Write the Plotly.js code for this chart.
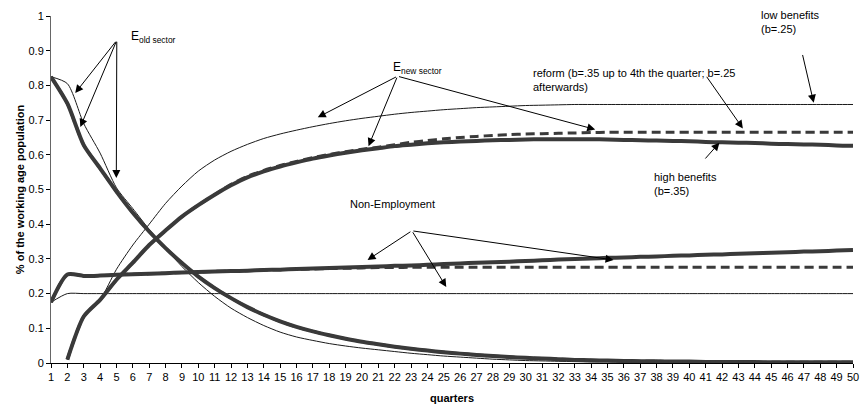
<!DOCTYPE html>
<html>
<head>
<meta charset="utf-8">
<script src="https://cdn.plot.ly/plotly-3.0.1.min.js"></script>
<style>html,body{margin:0;padding:0;background:#fff;}#chart{width:863px;height:407px;}</style>
</head>
<body>
<div id="chart"></div>
<script>
const quarters = Array.from({length: 50}, (_, i) => i + 1);

// E old sector
const oldLow = [0.825,0.805,0.69,0.605,0.505,0.445,0.385,0.33,0.278,0.232,0.192,0.158,0.131,0.108,0.089,0.075,0.065,0.056,0.049,0.043,0.038,0.033,0.028,0.024,0.020,0.017,0.014,0.011,0.009,0.007,0.006,0.005,0.004,0.003,0.003,0.002,0.002,0.002,0.002,0.001,0.001,0.001,0.001,0.001,0.001,0.001,0.001,0.001,0.001,0.001];
const oldHigh = [0.825,0.748,0.628,0.561,0.494,0.433,0.379,0.331,0.288,0.249,0.216,0.187,0.161,0.139,0.12,0.104,0.091,0.08,0.07,0.061,0.054,0.047,0.041,0.036,0.031,0.027,0.023,0.02,0.017,0.015,0.013,0.011,0.009,0.008,0.007,0.006,0.005,0.005,0.004,0.004,0.003,0.003,0.003,0.003,0.002,0.002,0.002,0.002,0.002,0.002];
const oldReform = [0.825,0.748,0.628,0.561,0.494,0.433,0.379,0.331,0.288,0.249,0.216,0.187,0.161,0.139,0.12,0.104,0.091,0.08,0.07,0.061,0.054,0.047,0.041,0.036,0.031,0.027,0.023,0.02,0.017,0.015,0.013,0.011,0.009,0.008,0.007,0.006,0.005,0.005,0.004,0.004,0.003,0.003,0.003,0.003,0.002,0.002,0.002,0.002,0.002,0.002];

// E new sector
const newLow = [null,0.01,0.134,0.182,0.27,0.34,0.40,0.46,0.51,0.553,0.585,0.61,0.63,0.647,0.66,0.671,0.681,0.69,0.698,0.705,0.711,0.717,0.722,0.726,0.73,0.733,0.736,0.738,0.74,0.742,0.743,0.744,0.745,0.745,0.745,0.745,0.745,0.745,0.745,0.745,0.745,0.745,0.745,0.745,0.745,0.745,0.745,0.745,0.745,0.745];
const newHigh = [null,0.01,0.134,0.182,0.24,0.289,0.34,0.382,0.422,0.455,0.485,0.512,0.535,0.552,0.566,0.578,0.589,0.598,0.606,0.613,0.619,0.625,0.629,0.633,0.636,0.638,0.640,0.642,0.643,0.644,0.645,0.645,0.645,0.645,0.644,0.643,0.642,0.641,0.640,0.639,0.637,0.636,0.635,0.634,0.632,0.631,0.630,0.629,0.627,0.626];
const newReform = [null,0.01,0.134,0.182,0.24,0.289,0.34,0.382,0.422,0.455,0.485,0.515,0.538,0.555,0.569,0.581,0.592,0.601,0.609,0.616,0.622,0.629,0.636,0.641,0.646,0.650,0.653,0.656,0.658,0.660,0.661,0.662,0.663,0.664,0.665,0.665,0.665,0.665,0.665,0.665,0.665,0.665,0.665,0.665,0.665,0.665,0.665,0.665,0.665,0.665];

// Non-employment
const nonLow = [0.175,0.2,0.2,0.2,0.2,0.2,0.2,0.2,0.2,0.2,0.2,0.2,0.2,0.2,0.2,0.2,0.2,0.2,0.2,0.2,0.2,0.2,0.2,0.2,0.2,0.2,0.2,0.2,0.2,0.2,0.2,0.2,0.2,0.2,0.2,0.2,0.2,0.2,0.2,0.2,0.2,0.2,0.2,0.2,0.2,0.2,0.2,0.2,0.2,0.2];
const nonHigh = [0.175,0.255,0.251,0.252,0.254,0.256,0.257,0.259,0.261,0.262,0.264,0.265,0.266,0.268,0.269,0.271,0.272,0.274,0.275,0.277,0.278,0.28,0.281,0.283,0.285,0.287,0.289,0.29,0.292,0.294,0.296,0.298,0.300,0.301,0.303,0.304,0.306,0.307,0.309,0.310,0.312,0.313,0.315,0.316,0.318,0.319,0.321,0.322,0.324,0.326];
const nonReform = [0.175,0.255,0.251,0.252,0.254,0.256,0.257,0.259,0.261,0.262,0.264,0.265,0.266,0.268,0.269,0.270,0.271,0.272,0.273,0.274,0.275,0.275,0.276,0.276,0.276,0.276,0.276,0.276,0.276,0.276,0.276,0.276,0.276,0.276,0.276,0.276,0.276,0.276,0.276,0.276,0.276,0.276,0.276,0.276,0.276,0.276,0.276,0.276,0.276,0.276];

const thin = {color: '#1a1a1a', width: 1, shape: 'spline', smoothing: 0.7};
const thick = {color: '#3a3a3a', width: 4, shape: 'spline', smoothing: 0.7};
const dashed = {color: '#3a3a3a', width: 3, dash: '9px,5px', shape: 'spline', smoothing: 0.7};

function tr(y, line) { return {x: quarters, y: y, type: 'scatter', mode: 'lines', line: line, hoverinfo: 'skip', connectgaps: false}; }

const data = [
  tr(oldLow, thin), tr(newLow, thin), tr(nonLow, thin),
  tr(oldHigh, thick), tr(newHigh, thick), tr(nonHigh, thick),
  tr(oldReform, dashed), tr(newReform, dashed), tr(nonReform, dashed)
];

const af = {family: 'Liberation Sans, Arial, sans-serif', size: 11, color: '#000'};
function arrow(tx, ty, hx, hy) {
  return {x: hx, y: hy, ax: tx, ay: ty, axref: 'x', ayref: 'y', xref: 'x', yref: 'y',
    text: '', showarrow: true, arrowhead: 2, arrowsize: 1.6, arrowwidth: 1, arrowcolor: '#000', standoff: 0, startstandoff: 0};
}
function label(x, y, text, xa, ya, size, yref) {
  return {x: x, y: y, xref: 'x', yref: yref || 'y', text: text, showarrow: false, xanchor: xa, yanchor: ya, align: 'left',
    font: Object.assign({}, af, {size: size || 11})};
}

const annotations = [
  arrow(5.02, 0.93, 2.48, 0.778), arrow(5.02, 0.93, 2.79, 0.68), arrow(5.02, 0.93, 4.99, 0.533),
  label(5.75, 0.94, 'E<sub>old sector</sub>', 'left', 'middle', 12),
  arrow(22.17, 0.8265, 17.3, 0.708), arrow(22.17, 0.8265, 20.4, 0.625), arrow(22.17, 0.8265, 34.25, 0.673),
  label(21.8, 0.85, 'E<sub>new sector</sub>', 'left', 'middle', 12),
  label(30.3, 0.86, 'reform (b=.35 up to 4th the quarter; b=.25<br>afterwards)', 'left', 'top', 11),
  arrow(41.0, 0.829, 43.27, 0.676),
  label(44.27, 1.025, 'low benefits<br>(b=.25)', 'left', 'top', 11, 'paper'),
  arrow(46.9, 0.892, 47.6, 0.75),
  label(37.7, 0.56, 'high benefits<br>(b=.35)', 'left', 'top', 11),
  arrow(40.9, 0.585, 41.84, 0.635),
  label(19.16, 0.458, 'Non-Employment', 'left', 'middle', 11),
  arrow(23.05, 0.381, 20.34, 0.297), arrow(23.05, 0.381, 25.15, 0.219), arrow(23.05, 0.381, 35.37, 0.297)
];

const layout = {
  width: 863, height: 407,
  margin: {l: 51, r: 10, t: 16, b: 44},
  paper_bgcolor: '#fff', plot_bgcolor: '#fff',
  showlegend: false,
  font: af,
  xaxis: {
    range: [1, 50], tick0: 1, dtick: 1, ticks: 'outside', ticklen: 4, tickcolor: '#000',
    showline: true, linecolor: '#000', linewidth: 1, showgrid: false, zeroline: false,
    tickfont: {family: 'Liberation Sans, Arial, sans-serif', size: 11, color: '#000'},
    title: {text: '<b>quarters</b>', font: {family: 'Liberation Sans, Arial, sans-serif', size: 11, color: '#000'}, standoff: 12},
    fixedrange: true
  },
  yaxis: {
    range: [0, 1], tick0: 0, dtick: 0.1, ticks: 'outside', ticklen: 4, tickcolor: '#000',
    showline: true, linecolor: '#666', linewidth: 1, showgrid: false, zeroline: false,
    tickfont: {family: 'Liberation Sans, Arial, sans-serif', size: 11, color: '#000'},
    title: {text: '<b>% of the working age population</b>', font: {family: 'Liberation Sans, Arial, sans-serif', size: 11, color: '#000'}, standoff: 1},
    fixedrange: true
  },
  annotations: annotations
};

Plotly.newPlot('chart', data, layout, {staticPlot: true, displayModeBar: false});
</script>
</body>
</html>
